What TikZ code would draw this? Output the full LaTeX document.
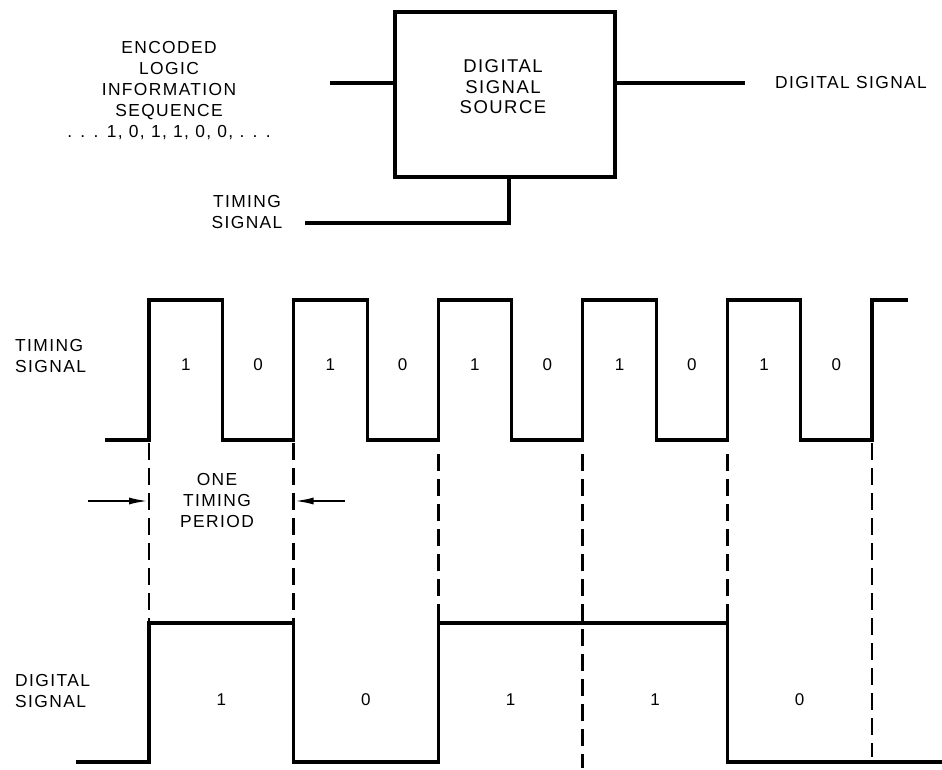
\documentclass[tikz,border=0pt]{standalone}
\usepackage{fontspec}
\setmainfont{Liberation Sans}
\usetikzlibrary{arrows.meta,calc}
\begin{document}
\begin{tikzpicture}[x=1pt,y=-1pt,
  wire/.style={line width=3.1pt, line cap=butt, line join=miter},
  guide/.style={line width=2.7pt, dash pattern=on 17pt off 8pt},
  pointer/.style={line width=2.4pt, -{Latex[length=20pt,width=7pt]}},
  lbl/.style={font=\fontsize{17.4}{21}\selectfont\addfontfeature{LetterSpace=8}, align=center, inner sep=0pt},
  boxlbl/.style={font=\fontsize{18.5}{20.5}\selectfont\addfontfeature{LetterSpace=8}, align=center, inner sep=0pt},
  bit/.style={font=\fontsize{17}{20}\selectfont, inner sep=0pt}
]
\useasboundingbox (0,0) rectangle (942,770);

% ---------- block diagram ----------
\node[draw, wire, minimum width=220pt, minimum height=165pt, inner sep=0pt] (src) at (505,94.5) {};
\node[boxlbl] (srctext) at (503,87) {DIGITAL\\SIGNAL\\SOURCE};

\node[lbl] (enc) at (169,91) {ENCODED\\LOGIC\\INFORMATION\\SEQUENCE\\. . . 1, 0, 1, 1, 0, 0, . . .};
\node[lbl] (outlbl) at (851,83) {DIGITAL SIGNAL};
\node[lbl] (tslbl) at (247,212) {TIMING\\SIGNAL};

\coordinate (inL) at (330,83);
\coordinate (outR) at (745,83);
\coordinate (tsL) at (305,223);
\coordinate (tsC) at (509,223);
\draw[wire] (inL) -- (inL -| src.west);
\draw[wire] (src.east |- outR) -- (outR);
\draw[wire] (tsL) -- (tsC) -- (tsC |- src.south);

% ---------- timing signal ----------
\def\hi{300}\def\lo{440}
\def\dhi{623}\def\dlo{762}
\foreach \i in {0,...,5}{
  \pgfmathsetmacro{\r}{149+144.6*\i}
  \coordinate (r\i) at (\r,\lo);
}
\draw[wire] (105,\lo)
  \foreach \i in {0,...,4}{
    -- (r\i) -- ++(0,-140) -- ++(73.5,0) -- ++(0,140)
  } -- (r5) -- ++(0,-140) -- (908,\hi);

\node[lbl, anchor=west, align=left] (tlbl) at (15,356) {TIMING\\SIGNAL};
\foreach \i in {0,...,4}{
  \node[bit] (one\i) at ($(r\i)+(36.75,-75)$) {1};
  \node[bit] (zero\i) at ($(r\i)+(109.05,-75)$) {0};
}

% ---------- guide lines ----------
\coordinate (dtop) at (0,\dhi);
\draw[guide] ($(r0)+(0,3)$) -- (r0 |- dtop);
\draw[guide] ($(r1)+(0,3)$) -- (r1 |- dtop);
\draw[guide] ($(r2)+(0,14)$) -- (r2 |- dtop);
\draw[guide] ($(r3)+(0,14)$) -- ($(r3)+(0,328)$);
\draw[guide] ($(r4)+(0,14)$) -- (r4 |- dtop);
\draw[guide] ($(r5)+(0,3)$) -- ($(r5)+(0,317)$);

% ---------- one timing period ----------
\node[lbl] (period) at (217,501) {ONE\\TIMING\\PERIOD};
\coordinate (aL) at (88,501);
\coordinate (aR) at (345,501);
\draw[pointer] (aL) -- (aL -| r0);
\draw[pointer] (aR) -- (aR -| r1);

% ---------- digital signal ----------
\coordinate (dbot) at (0,\dlo);
\draw[wire] (76,\dlo) -- (r0 |- dbot) -- (r0 |- dtop) -- (r1 |- dtop)
  -- (r1 |- dbot) -- (r2 |- dbot) -- (r2 |- dtop) -- (r4 |- dtop)
  -- (r4 |- dbot) -- (942,\dlo);

\node[lbl, anchor=west, align=left] (dlbl) at (15,691) {DIGITAL\\SIGNAL};
\node[bit] (d1) at ($(r0)!0.5!(r1)+(0,260)$) {1};
\node[bit] (d2) at ($(r1)!0.5!(r2)+(0,260)$) {0};
\node[bit] (d3) at ($(r2)!0.5!(r3)+(0,260)$) {1};
\node[bit] (d4) at ($(r3)!0.5!(r4)+(0,260)$) {1};
\node[bit] (d5) at ($(r4)!0.5!(r5)+(0,260)$) {0};
\end{tikzpicture}
\end{document}
